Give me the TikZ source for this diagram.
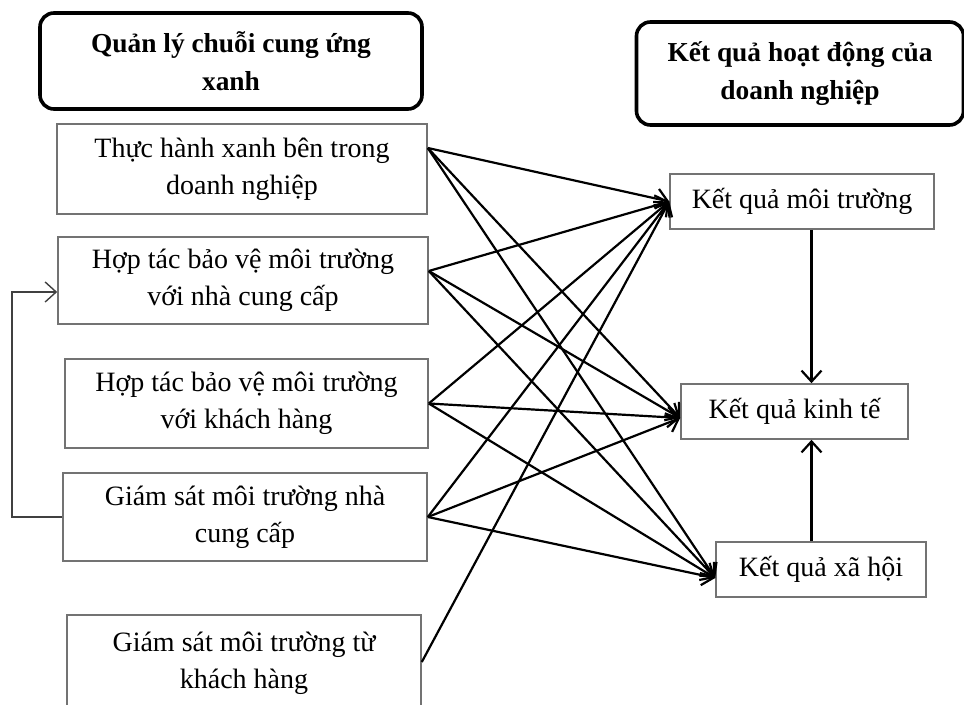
\documentclass[tikz,border=0pt]{standalone}
\usepackage{fontspec}
\setmainfont{Liberation Serif}
\usepackage{tikz}
\usetikzlibrary{arrows.meta}
\tikzstyle{diagram}=[x=0.5pt, y={(0pt,-0.5pt)}, font=\fontsize{14pt}{18.5pt}\selectfont]
\tikzstyle{head}=[rectangle, rounded corners=7pt, draw, line width=1.8pt, align=center, font=\fontsize{13.7pt}{19pt}\selectfont\bfseries]
\tikzstyle{factor}=[rectangle, draw=black!55, line width=0.8pt, align=center, inner sep=2pt]
\tikzstyle{result}=[rectangle, draw=black!55, line width=0.8pt, minimum height=27.5pt]
\tikzstyle{edge}=[line width=1.1pt, -{Straight Barb[length=5.5pt,width=10pt]}]
\tikzstyle{link}=[draw=black!75, line width=0.7pt]

\begin{document}
\begin{tikzpicture}[diagram]
	\useasboundingbox (0,0) rectangle (964,705);
	\clip (0,0) rectangle (964,705);

	\draw (231,61) node[head, minimum width=191pt, minimum height=48pt] (hL) {Quản lý chuỗi cung ứng\\xanh};
	\draw (800,73.5) node[head, minimum width=163.5pt, minimum height=51.5pt] (hR) {Kết quả hoạt động của\\doanh nghiệp};

	\draw (242,169) node[factor, minimum width=185pt, minimum height=45pt] (b1) {Thực hành xanh bên trong\\doanh nghiệp};
	\draw (243,280.5) node[factor, minimum width=185pt, minimum height=43.5pt] (b2) {Hợp tác bảo vệ môi trường\\với nhà cung cấp};
	\draw (246.5,403.5) node[factor, minimum width=181.5pt, minimum height=44.5pt] (b3) {Hợp tác bảo vệ môi trường\\với khách hàng};
	\draw (245,517) node[factor, minimum width=182pt, minimum height=44pt] (b4) {Giám sát môi trường nhà\\cung cấp};
	\draw (244,663) node[factor, minimum width=177pt, minimum height=48pt] (b5) {Giám sát môi trường từ\\khách hàng};

	\draw (802,201.5) node[result, minimum width=132pt] (env) {Kết quả môi trường};
	\draw (794.5,411.5) node[result, minimum width=113.5pt] (econ) {Kết quả kinh tế};
	\draw (821,569.5) node[result, minimum width=105pt] (soc) {Kết quả xã hội};

	%where the arrows leave and reach the boxes
	\coordinate (s1) at ([yshift=10.5pt]b1.east);
	\coordinate (s2) at ([yshift=4.75pt]b2.east);
	\coordinate (s3) at (b3.east);
	\coordinate (s4) at (b4.east);
	\coordinate (s5) at ([yshift=0.5pt]b5.east);
	\coordinate (tEnv) at (env.west);
	\coordinate (tEcon) at ([yshift=-3.25pt]econ.west);
	\coordinate (tSoc) at ([yshift=-4.25pt]soc.west);

	\draw[edge] (s1) -- (tEnv);
	\draw[edge] (s1) -- (tEcon);
	\draw[edge] (s1) -- (tSoc);
	\draw[edge] (s2) -- (tEnv);
	\draw[edge] (s2) -- (tEcon);
	\draw[edge] (s2) -- (tSoc);
	\draw[edge] (s3) -- (tEnv);
	\draw[edge] (s3) -- (tEcon);
	\draw[edge] (s3) -- (tSoc);
	\draw[edge] (s4) -- (tEnv);
	\draw[edge] (s4) -- (tEcon);
	\draw[edge] (s4) -- (tSoc);
	\draw[edge] (s5) -- (tEnv);

	\coordinate (colx) at (811.5,0);
	\draw[edge] (env.south -| colx) -- (econ.north -| colx);
	\draw[edge] (soc.north -| colx) -- (econ.south -| colx);

	%The feedback line on the left
	\coordinate (fbx) at (12,0);
	\coordinate (fbIn) at ([yshift=-5.75pt]b2.west);
	\draw[link, -{Straight Barb[length=5.5pt,width=10pt]}] (b4.west) -- (b4.west -| fbx) |- (fbIn);
\end{tikzpicture}
\end{document}
